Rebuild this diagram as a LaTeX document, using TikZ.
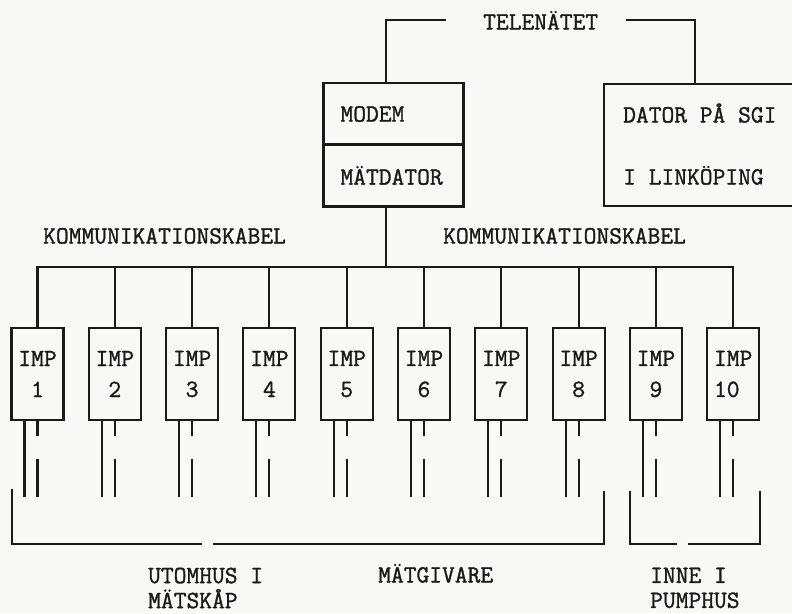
\documentclass[tikz,border=0pt]{standalone}
\usepackage{fontspec}
\setmainfont{Latin Modern Mono}[FakeBold=1.2]
\usetikzlibrary{positioning}
\definecolor{ink}{HTML}{1A1A1A}
\definecolor{paper}{HTML}{F8F8F6}
\newcommand{\typew}{\fontsize{24.8}{31}\selectfont}
\tikzset{
 every node/.append style={font=\typew,text=ink},
 wire/.style={draw=ink,line width=2.1pt},
 unit/.style={draw=ink,line width=2.1pt,minimum width=140pt,minimum height=62pt,text width=106pt,inner xsep=17pt,inner ysep=0pt,align=left},
 impbox/.style={draw=ink,line width=2.1pt,minimum width=52pt,minimum height=92pt,inner sep=0pt,align=left},
 word/.style={inner sep=0pt,anchor=base west},
 pair/.style={inner sep=0pt,anchor=north west,align=left,font=\fontsize{24.8}{25}\selectfont},
}

\begin{document}
\begin{tikzpicture}[x=1pt,y=-1pt]

\fill[paper] (0,0) rectangle (792,613);
\useasboundingbox (0,0) rectangle (792,613);
\node[word] (tele) at (483,29.5) {TELENÄTET};
\node[unit] (modem) at (393.5,114) {MODEM};
\node[unit] (matdator) at (393.5,175.5) {MÄTDATOR};
\node[draw=ink,line width=2.1pt,minimum width=200pt,minimum height=122pt] (dator) at (704,145) {};
\node[word] (sgi) at (623,122.5) {DATOR PÅ SGI};
\node[word] (lkp) at (623,184.5) {I LINKÖPING};
\coordinate (drop) at (386,267);
\draw[wire] ([xshift=-37pt]tele.west) -| (drop |- modem.north);
\draw[wire] ([xshift=28pt]tele.east) -| ([xshift=-9pt]dator.north);
\draw[wire] (drop |- matdator.south) -- (drop);
\node[word] (kabel1) at (43,243.5) {KOMMUNIKATIONSKABEL};
\node[word] (kabel2) at (443,243.5) {KOMMUNIKATIONSKABEL};
\foreach \i in {1,...,10}{
 \node[impbox] (imp\i) at ({37.5+77.3*(\i-1)},374) {IMP\\\ifnum\i<10 \hphantom{0}\fi\i};
 \draw[wire] ([xshift=-13pt]imp\i.south) -- ++(0,76);
 \draw[wire] (imp\i.south) -- ++(0,15) ++(0,23) -- ++(0,38);
}
\draw[wire] (imp1.north) -- (imp1.north |- drop) -- (imp10.north |- drop) -- (imp10.north);
\foreach \i in {2,...,9} \draw[wire] (imp\i.north) -- (imp\i.north |- drop);
\draw[wire] (12,489) |- (202,544) (213,544) -| (604,491);
\draw[wire] (630,491) |- (677,544) (688,544) -| (760,491);
\node[pair] (ute) at (148,567.5) {UTOMHUS I\\MÄTSKÅP};
\node[word] (givare) at (378,582.5) {MÄTGIVARE};
\node[pair] (inne) at (650,567.5) {INNE I\\PUMPHUS};
\end{tikzpicture}
\end{document}
